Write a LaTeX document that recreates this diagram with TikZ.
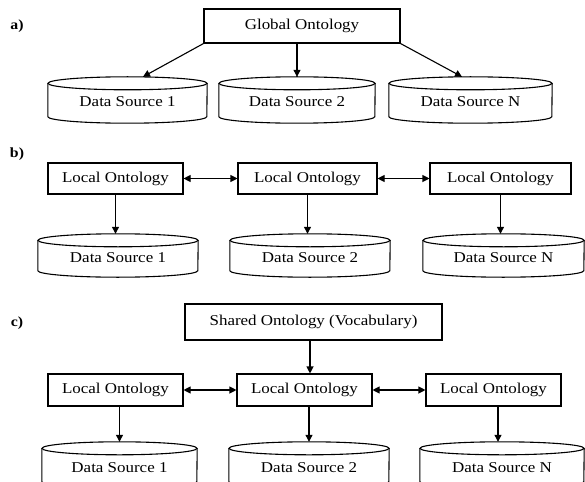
\documentclass[tikz,border=0pt]{standalone}
\usepackage{fontspec}
\setmainfont{Liberation Serif}[FakeStretch=1.13]
\usetikzlibrary{arrows.meta,calc}
\newcommand\drawcyl[2]{%
  \draw[cylline] ($(#1.north west)+(0,-6.5)$) -- ($(#1.south west)+(0,6.5)$)
     arc[start angle=180,end angle=360,x radius=#2,y radius=6.5] -- ($(#1.north east)+(0,-6.5)$);
  \draw[cylline] ($(#1.north)+(0,-6.5)$) ellipse[x radius=#2,y radius=6.5];}
\tikzset{
  box/.style={draw, line width=1.1pt, inner sep=0pt, font=\fontsize{15}{18}\selectfont},
  ds/.style={inner sep=0pt, text height=14pt, text depth=0pt, font=\fontsize{15}{18}\selectfont},
  cylline/.style={line width=1.1pt},
  lab/.style={font=\fontsize{14}{16}\selectfont\bfseries, inner sep=0pt},
  arr/.style={line width=1.1pt, -{Triangle[length=7pt,width=7pt]}},
  darr/.style={line width=1.1pt, {Triangle[length=7pt,width=7pt]}-{Triangle[length=7pt,width=7pt]}}
}
\begin{document}
\begin{tikzpicture}[x=1pt,y=1pt]
\fill[white] (0,0) rectangle (585,-481);
\useasboundingbox (0,0) rectangle (585,-481);
% a)
\node[lab] (la) at (17,-26) {a)};
\node[box, minimum width=196pt, minimum height=34pt] (G) at (302,-26) {Global Ontology};
\node[ds, minimum width=159pt, minimum height=46pt] (A1) at (127.5,-100) {Data Source 1};
\node[ds, minimum width=156pt, minimum height=46pt] (A2) at (297,-100) {Data Source 2};
\node[ds, minimum width=163pt, minimum height=46pt] (A3) at (470.5,-100) {Data Source N};
\drawcyl{A1}{79.5}
\drawcyl{A2}{78}
\drawcyl{A3}{81.5}
\coordinate (a1t) at ($(A1.north)+(15.5,0)$);
\coordinate (a3t) at ($(A3.north)+(-8.5,0)$);
\draw[arr] (G.south west) -- (a1t);
\draw[arr] (A2.north |- G.south) -- (A2.north);
\draw[arr] (G.south east) -- (a3t);
% b)
\node[lab] (lb) at (17,-154) {b)};
\node[box, minimum width=135pt, minimum height=31pt] (L1) at (115.5,-178.5) {Local Ontology};
\node[box, minimum width=139pt, minimum height=31pt] (L2) at (307.5,-178.5) {Local Ontology};
\node[box, minimum width=141pt, minimum height=31pt] (L3) at (500.5,-178.5) {Local Ontology};
\node[ds, minimum width=160pt, minimum height=43pt] (B1) at (118,-255.5) {Data Source 1};
\node[ds, minimum width=160pt, minimum height=43pt] (B2) at (310,-255.5) {Data Source 2};
\node[ds, minimum width=161pt, minimum height=43pt] (B3) at (503.5,-255.5) {Data Source N};
\drawcyl{B1}{80}
\drawcyl{B2}{80}
\drawcyl{B3}{80.5}
\draw[darr] (L1.east) -- (L2.west);
\draw[darr] (L2.east) -- (L3.west);
\draw[arr] (L1.south) -- (L1.south |- B1.north);
\draw[arr] (L2.south) -- (L2.south |- B2.north);
\draw[arr] (L3.south) -- (L3.south |- B3.north);
% c)
\node[lab] (lc) at (17,-323) {c)};
\node[box, minimum width=257pt, minimum height=36pt] (S) at (313.5,-322) {Shared Ontology (Vocabulary)};
\node[box, minimum width=135pt, minimum height=32pt] (M1) at (115.5,-390) {Local Ontology};
\node[box, minimum width=135pt, minimum height=32pt] (M2) at (304.5,-390) {Local Ontology};
\node[box, minimum width=135pt, minimum height=32pt] (M3) at (493.5,-390) {Local Ontology};
\node[ds, minimum width=155pt, minimum height=46pt] (C1) at (119.5,-465) {Data Source 1};
\node[ds, minimum width=160pt, minimum height=46pt] (C2) at (309,-465) {Data Source 2};
\node[ds, minimum width=164pt, minimum height=46pt] (C3) at (502,-465) {Data Source N};
\drawcyl{C1}{77.5}
\drawcyl{C2}{80}
\drawcyl{C3}{82}
\coordinate (sx) at (310,0);
\coordinate (c3t) at ($(C3.north)+(-4,0)$);
\draw[arr] (S.south -| sx) -- (M2.north -| sx);
\draw[darr] (M1.east) -- (M2.west);
\draw[darr] (M2.east) -- (M3.west);
\draw[arr] (C1.north |- M1.south) -- (C1.north);
\draw[arr] (C2.north |- M2.south) -- (C2.north);
\draw[arr] (c3t |- M3.south) -- (c3t);
\end{tikzpicture}
\end{document}
